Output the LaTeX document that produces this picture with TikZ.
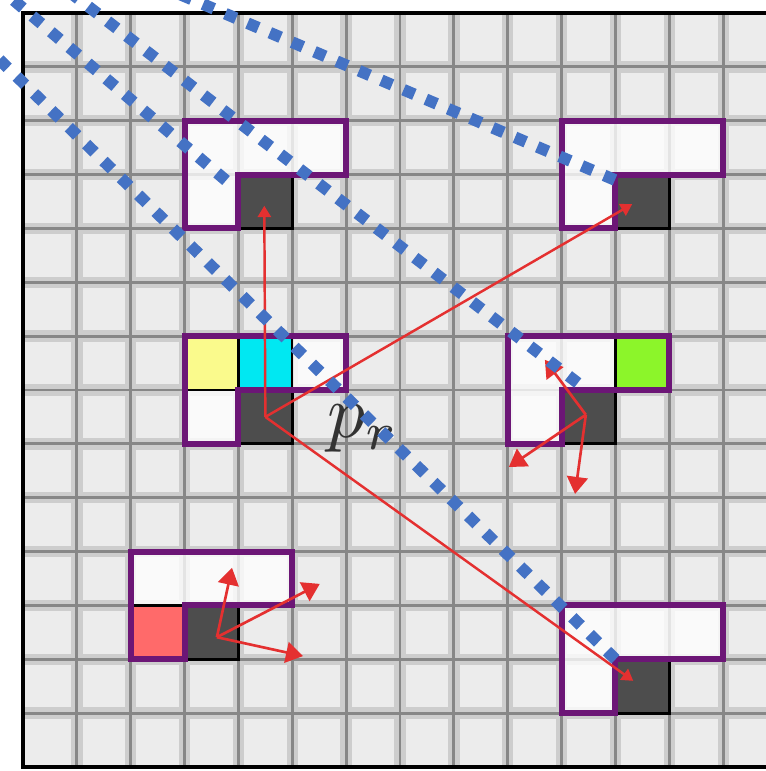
\documentclass[tikz,border=0pt]{standalone}
\usetikzlibrary{arrows.meta}
\definecolor{gridbg}{RGB}{236,236,236}
\definecolor{gridline}{RGB}{135,135,135}
\definecolor{gridhalo}{RGB}{205,205,205}
\definecolor{purp}{RGB}{108,22,118}
\definecolor{darkfill}{RGB}{77,77,77}
\definecolor{dotblue}{RGB}{68,114,196}
\definecolor{arrred}{RGB}{228,48,48}
\definecolor{cyellow}{RGB}{250,250,140}
\definecolor{ccyan}{RGB}{0,232,242}
\definecolor{cgreen}{RGB}{140,245,42}
\definecolor{csalmon}{RGB}{255,106,106}
\tikzset{
  darkcell/.style={draw=black, line width=1.6pt, fill=darkfill, minimum size=1cm, inner sep=0pt, outer sep=0pt},
  colcell/.style={draw=black, line width=1.2pt, fill=#1, minimum size=1cm, inner sep=0pt, outer sep=0pt},
  nbhd/.style={draw=purp, line width=3.2pt, line join=miter},
  nbfill/.style={fill=white, fill opacity=0.78},
  bluedots/.style={draw=dotblue, line width=6.2pt, dash pattern=on 6.2pt off 6.6pt},
  redshort/.style={draw=arrred, line width=1.4pt, -{Triangle[length=9pt,width=11pt]}},
  redlong/.style={draw=arrred, line width=1.3pt, -{Triangle[length=6pt,width=7pt]}},
  halo/.style={draw=gridhalo, line width=6pt},
  core/.style={draw=gridline, line width=1.5pt},
}
\begin{document}
\begin{tikzpicture}[x=1cm,y=-1cm]
\useasboundingbox (-0.427,-0.241) rectangle (13.795,14.074);
\clip (-0.427,-0.241) rectangle (13.795,14.074);
\fill[white] (-0.427,-0.241) rectangle (13.795,14.074);
% grid background
\fill[gridbg] (0,0) rectangle (14,14);
\foreach \i in {1,...,13} {
  \draw[halo] (\i,0) -- (\i,14);
  \draw[halo] (0,\i) -- (14,\i);
}
\foreach \i in {1,...,13} {
  \draw[core] (\i,0) -- (\i,14);
  \draw[core] (0,\i) -- (14,\i);
}
% neighbourhood cells (white)
\foreach \c/\r in {4/3,4/7,11/3,10/7,3/11,11/12} {
  \fill[nbfill] (\c-1,\r-1) -- (\c+2,\r-1) -- (\c+2,\r) -- (\c,\r) -- (\c,\r+1) -- (\c-1,\r+1) -- cycle;
}
% coloured cells
\node[colcell=cyellow] (yB) at (3.5,6.5) {};
\node[colcell=ccyan] (cB) at (4.5,6.5) {};
\node[colcell=cgreen] (gD) at (11.5,6.5) {};
\node[colcell=csalmon] (sE) at (2.5,11.5) {};
% dark (centre) cells
\node[darkcell] (dA) at (4.5,3.5) {};
\node[darkcell] (dB) at (4.5,7.5) {};
\node[darkcell] (dC) at (11.5,3.5) {};
\node[darkcell] (dD) at (10.5,7.5) {};
\node[darkcell] (dE) at (3.5,11.5) {};
\node[darkcell] (dF) at (11.5,12.5) {};
% purple outlines
\foreach \c/\r in {4/3,4/7,11/3,10/7,3/11,11/12} {
  \draw[nbhd] (\c-1,\r-1) -- (\c+2,\r-1) -- (\c+2,\r) -- (\c,\r) -- (\c,\r+1) -- (\c-1,\r+1) -- cycle;
}
% outer border
\draw[black, line width=2.6pt] (0,0) rectangle (14,14);
% red arrows from p_r
\coordinate (tA) at (4.48,3.58);
\coordinate (tC) at (11.31,3.55);
\coordinate (tF) at (11.33,12.40);
\draw[redlong] (dB.center) -- (tA);
\draw[redlong] (dB.center) -- (tC);
\draw[redlong] (dB.center) -- (tF);
% arrows in D
\coordinate (oD) at (10.45,7.46);
\coordinate (tD1) at (9.69,6.44);
\coordinate (tD2) at (9.02,8.43);
\coordinate (tD3) at (10.25,8.93);
\draw[redshort] (oD) -- (tD1);
\draw[redshort] (oD) -- (tD2);
\draw[redshort] (oD) -- (tD3);
% arrows in E
\coordinate (oE) at (3.60,11.59);
\coordinate (tE1) at (3.88,10.30);
\coordinate (tE2) at (5.51,10.60);
\coordinate (tE3) at (5.20,11.94);
\draw[redshort] (oE) -- (tE1);
\draw[redshort] (oE) -- (tE2);
\draw[redshort] (oE) -- (tE3);
% label
\node[anchor=base west, scale=4, inner sep=0pt, text=black!80] (pr) at (5.63,7.89) {$p_r$};
% blue dotted lines
\coordinate (e1) at (11,12);
\coordinate (s1) at (-1,0.32);
\coordinate (e2) at (10.30,6.87);
\coordinate (s2) at (0.59,-0.6);
\coordinate (e3) at (3.77,3.11);
\coordinate (s3) at (-0.6,-0.6);
\coordinate (e4) at (10.99,3.10);
\coordinate (s4) at (2.32,-0.6);
\draw[bluedots] (e1) -- (s1);
\draw[bluedots] (e2) -- (s2);
\draw[bluedots] (e3) -- (s3);
\draw[bluedots] (e4) -- (s4);
\end{tikzpicture}
\end{document}
